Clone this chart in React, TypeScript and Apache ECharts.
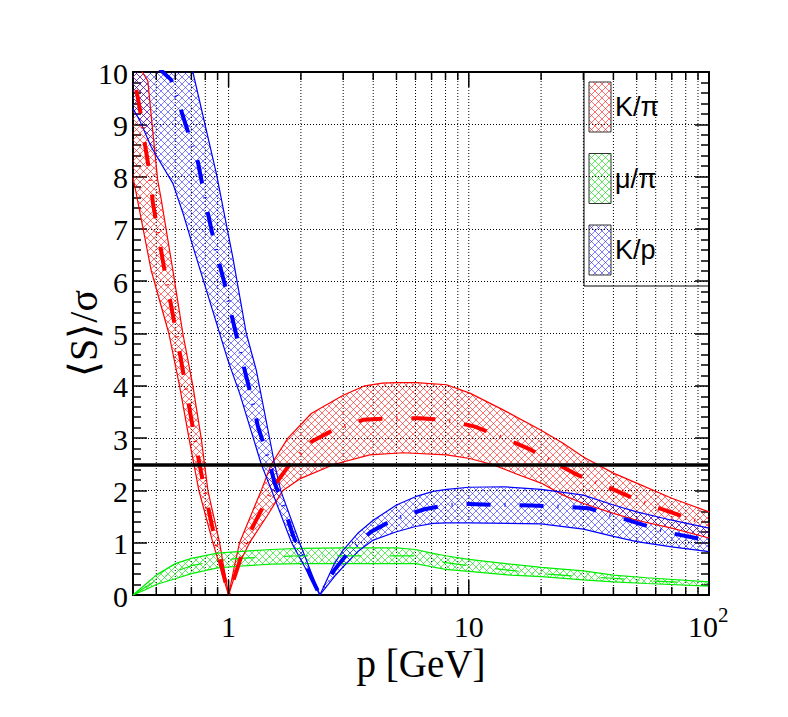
import React, { useEffect, useRef } from 'react';
import * as echarts from 'echarts';

// ---- axis ranges ----
const xMin = 0.4;
const xMax = 100;
const yMin = 0;
const yMax = 10;
const threshold = 2.5;

// ---- K/pi band (red) ----
const redUpper: number[][] = [
  [0.40, 10.3], [0.437, 10.0], [0.461, 9.83], [0.484, 8.84], [0.507, 7.93], [0.524, 7.57],
  [0.586, 6.21], [0.645, 5.0], [0.71, 4.0], [0.769, 3.0], [0.82, 2.0], [0.917, 1.0], [1.0, 0.0],
  [1.052, 0.5], [1.111, 1.0], [1.368, 2.0], [1.506, 2.5], [1.766, 3.0], [2.21, 3.47], [3.0, 3.82],
  [3.69, 4.0], [4.37, 4.05], [5.0, 4.06], [6.04, 4.06], [8.08, 4.02], [10.1, 3.86], [13.9, 3.54],
  [20, 3.15], [24.7, 2.9], [30, 2.64], [40, 2.33], [50, 2.14], [70, 1.85], [100, 1.59],
];
const redLower: number[][] = [
  [0.40, 7.98], [0.41, 7.74], [0.476, 6.21], [0.564, 5.0], [0.625, 4.0], [0.684, 3.0], [0.752, 2.0],
  [0.86, 1.0], [1.0, 0.0], [1.09, 0.54], [1.223, 1.0], [1.45, 1.52], [1.683, 2.0], [2.0, 2.23],
  [2.76, 2.5], [3.87, 2.68], [5.33, 2.72], [8.08, 2.68], [10.1, 2.61], [12.6, 2.49], [16.3, 2.29],
  [20, 2.14], [24.7, 1.91], [30, 1.75], [40, 1.56], [50, 1.43], [70, 1.28], [100, 1.09],
];
const redCenter: number[][] = [
  [0.413, 9.66], [0.433, 9.14], [0.449, 8.6], [0.469, 8.07], [0.484, 7.5], [0.541, 6.21],
  [0.606, 5.0], [0.662, 4.0], [0.722, 3.0], [0.794, 2.0], [0.883, 1.0], [1.0, 0.0], [1.2, 1.11],
  [1.346, 1.56], [1.555, 2.1], [1.766, 2.45], [2.21, 2.93], [2.72, 3.15], [3.63, 3.35], [4.68, 3.38],
  [6.25, 3.38], [7.94, 3.35], [10.6, 3.22], [13.5, 3.03], [17.7, 2.8], [22, 2.57], [28.5, 2.29],
  [36.3, 2.1], [46.8, 1.88], [59.5, 1.69], [78.3, 1.5], [100, 1.34],
];

// ---- mu/pi band (green) ----
const greenUpper: number[][] = [
  [0.4, 0.0], [0.45, 0.2], [0.5, 0.38], [0.6, 0.6], [0.7, 0.7], [0.9, 0.8], [1.1, 0.83], [1.5, 0.87],
  [2, 0.89], [3, 0.9], [5, 0.9], [6, 0.87], [7, 0.8], [8, 0.75], [10, 0.68], [15, 0.59], [20, 0.53],
  [30, 0.46], [40, 0.38], [55, 0.33], [100, 0.25],
];
const greenLower: number[][] = [
  [0.4, 0.0], [0.45, 0.1], [0.5, 0.2], [0.6, 0.31], [0.7, 0.41], [0.9, 0.52], [1.1, 0.55], [1.5, 0.59],
  [2, 0.6], [6, 0.6], [7, 0.54], [8, 0.49], [10, 0.45], [15, 0.38], [20, 0.35], [30, 0.29], [40, 0.25],
  [55, 0.22], [100, 0.17],
];
const greenCenter: number[][] = [
  [0.4, 0.0], [0.5, 0.28], [0.6, 0.45], [0.7, 0.56], [0.9, 0.66], [1.1, 0.7], [1.5, 0.73], [2, 0.75],
  [6, 0.75], [7, 0.68], [8, 0.62], [10, 0.56], [15, 0.47], [20, 0.41], [30, 0.35], [40, 0.32],
  [55, 0.27], [70, 0.25], [100, 0.22],
];

// ---- K/p band (blue) ----
const blueUpper: number[][] = [
  [0.4, 11.5], [0.6, 11.4], [0.71, 10.0], [0.889, 8.06], [1.04, 6.47], [1.185, 5.0], [1.304, 4.3],
  [1.555, 2.5], [1.647, 2.0], [1.976, 1.0], [2.4, 0.0], [2.757, 0.6], [3.0, 0.86], [3.45, 1.18],
  [4.0, 1.43], [5.0, 1.72], [6.0, 1.88], [7.1, 1.98], [8.1, 2.02], [10, 2.06], [14, 2.07], [20, 2.02],
  [30, 1.91], [40, 1.72], [50, 1.59], [70, 1.43], [100, 1.28],
];
const blueLower: number[][] = [
  [0.4, 9.3], [0.426, 9.08], [0.476, 8.57], [0.586, 7.87], [0.645, 7.31], [0.71, 6.67], [0.993, 4.49],
  [1.111, 3.86], [1.368, 2.5], [1.51, 2.0], [1.83, 1.0], [2.4, 0.0], [2.757, 0.35], [3.0, 0.54],
  [3.45, 0.83], [4.0, 1.05], [5.0, 1.21], [6.0, 1.31], [7.1, 1.37], [8.1, 1.38], [10, 1.38], [20, 1.36],
  [30, 1.26], [40, 1.12], [50, 1.02], [70, 0.92], [100, 0.83],
];
const blueCenter: number[][] = [
  [0.5, 10.15], [0.532, 10.0], [0.577, 9.85], [0.605, 9.56], [0.688, 8.76], [0.745, 8.28], [0.82, 7.3],
  [0.889, 6.56], [0.978, 5.83], [1.01, 5.51], [1.166, 4.3], [1.263, 3.67], [1.325, 3.22], [1.458, 2.64],
  [1.555, 2.14], [1.712, 1.63], [1.852, 1.15], [2.04, 0.7], [2.2, 0.35], [2.4, 0.0], [2.757, 0.48],
  [3.18, 0.83], [3.92, 1.21], [4.9, 1.45], [6.53, 1.64], [8.1, 1.72], [10, 1.74], [14.1, 1.72],
  [18.2, 1.71], [24.3, 1.69], [31.5, 1.66], [41.2, 1.5], [53.3, 1.34], [69.8, 1.18], [90.4, 1.08],
  [100, 1.05],
];

// ---- ticks / grid / labels ----
const xGridValues = [0.5, 0.6, 0.7, 0.8, 0.9, 1, 2, 3, 4, 5, 6, 7, 8, 9, 10, 20, 30, 40, 50, 60, 70, 80, 90];
const xTickValues = [0.5, 0.6, 0.7, 0.8, 0.9, 1, 2, 3, 4, 5, 6, 7, 8, 9, 10, 20, 30, 40, 50, 60, 70, 80, 90, 100];
const xMajorTicks = [1, 10, 100];
const xLabelValues = [1, 10, 100];
const yLabelValues = [0, 1, 2, 3, 4, 5, 6, 7, 8, 9, 10];
const legendLabels = ['K/π', 'μ/π', 'K/p'];

const SERIF = 'Liberation Serif';
const SANS = 'Liberation Sans';

function makeHatch(color: string) {
  const s = 7;
  const T = 14;
  const c = document.createElement('canvas');
  c.width = T;
  c.height = T;
  const ctx = c.getContext('2d')!;
  ctx.strokeStyle = color;
  ctx.lineWidth = 1;
  for (let k = -3; k <= 4; k++) {
    ctx.beginPath();
    ctx.moveTo(k * s, 0);
    ctx.lineTo(k * s + T, T);
    ctx.stroke();
    ctx.beginPath();
    ctx.moveTo(k * s, 0);
    ctx.lineTo(k * s - T, T);
    ctx.stroke();
  }
  return { image: c.toDataURL(), repeat: 'repeat', imageWidth: T, imageHeight: T };
}

export default function App() {
  const ref = useRef<HTMLDivElement>(null);

  useEffect(() => {
    document.body.style.margin = '0';
    const chart = echarts.init(ref.current!, null, { renderer: 'svg' });

    const redFill = makeHatch('rgba(255,0,0,0.55)');
    const greenFill = makeHatch('rgba(0,220,0,0.6)');
    const blueFill = makeHatch('rgba(0,0,255,0.5)');

    const dashDot = [24, 14, 1, 14];

    const band = (name: string, upper: number[][], lower: number[][], fill: any) => {
      const poly = upper.concat(lower.slice().reverse());
      return {
        type: 'custom',
        name,
        clip: true,
        silent: true,
        z: 2,
        data: poly,
        encode: { x: 0, y: 1 },
        renderItem: (params: any, api: any) => {
          if (params.dataIndex !== 0) return null;
          const pts = poly.map((d) => api.coord(d));
          return { type: 'polygon', shape: { points: pts }, style: { fill, stroke: null } };
        },
      };
    };

    const line = (name: string, data: number[][], color: string, width: number, type: any, z: number, extra: any = {}) => ({
      type: 'line',
      name,
      data,
      symbol: 'none',
      showSymbol: false,
      clip: true,
      silent: true,
      z,
      lineStyle: { color, width, type, cap: 'butt' },
      ...extra,
    });

    const txt = (x: number, y: number, text: string, font: string, align: string, lineHeight: number, rotation = 0) => ({
      type: 'text',
      x,
      y,
      rotation,
      style: {
        text,
        font,
        lineHeight,
        fill: '#000',
        align,
        textAlign: align,
        verticalAlign: 'middle',
        textVerticalAlign: 'middle',
      },
    });

    const option: any = {
      animation: false,
      backgroundColor: '#ffffff',
      grid: { left: 133, right: 79, top: 72, bottom: 122, containLabel: false },
      xAxis: [
        {
          type: 'log',
          logBase: 10,
          min: xMin,
          max: xMax,
          position: 'bottom',
          axisLine: { show: true, onZero: false, lineStyle: { color: '#000', width: 2 } },
          axisTick: { show: false },
          axisLabel: { show: false },
          splitLine: { show: false },
        },
        {
          type: 'log',
          logBase: 10,
          min: xMin,
          max: xMax,
          position: 'top',
          axisLine: { show: true, onZero: false, lineStyle: { color: '#000', width: 2 } },
          axisTick: { show: false },
          axisLabel: { show: false },
          splitLine: { show: false },
        },
      ],
      yAxis: [
        {
          type: 'value',
          min: yMin,
          max: yMax,
          interval: 1,
          position: 'left',
          axisLine: { show: true, onZero: false, lineStyle: { color: '#000', width: 2 } },
          axisTick: { show: true, inside: true, length: 14, lineStyle: { color: '#000', width: 1.5 } },
          minorTick: { show: true, splitNumber: 5, length: 8, lineStyle: { color: '#000', width: 1.5 } },
          axisLabel: { show: false },
          splitLine: { show: true, lineStyle: { color: '#000', width: 1, type: [1, 2] } },
        },
        {
          type: 'value',
          min: yMin,
          max: yMax,
          interval: 1,
          position: 'right',
          axisLine: { show: true, onZero: false, lineStyle: { color: '#000', width: 2 } },
          axisTick: { show: true, inside: true, length: 14, lineStyle: { color: '#000', width: 1.5 } },
          minorTick: { show: true, splitNumber: 5, length: 8, lineStyle: { color: '#000', width: 1.5 } },
          axisLabel: { show: false },
          splitLine: { show: false },
        },
      ],
      series: [
        {
          type: 'custom',
          name: 'xgrid',
          silent: true,
          z: 1,
          data: xGridValues.map((v) => [v, yMin]),
          encode: { x: 0, y: 1 },
          renderItem: (params: any, api: any) => {
            const p = api.value(0);
            const a = api.coord([p, yMin]);
            const b = api.coord([p, yMax]);
            return {
              type: 'line',
              shape: { x1: a[0], y1: a[1], x2: b[0], y2: b[1] },
              style: { stroke: '#000', lineWidth: 1, lineDash: [1, 2] },
            };
          },
        },
        band('K/π band', redUpper, redLower, redFill),
        band('μ/π band', greenUpper, greenLower, greenFill),
        band('K/p band', blueUpper, blueLower, blueFill),
        line('K/π upper', redUpper, '#ff0000', 1.2, 'solid', 3),
        line('K/π lower', redLower, '#ff0000', 1.2, 'solid', 3),
        line('μ/π upper', greenUpper, '#00ee00', 1.2, 'solid', 3),
        line('μ/π lower', greenLower, '#00ee00', 1.2, 'solid', 3),
        line('K/p upper', blueUpper, '#0000ff', 1.2, 'solid', 3),
        line('K/p lower', blueLower, '#0000ff', 1.2, 'solid', 3),
        line('μ/π', greenCenter, '#00ee00', 1.2, dashDot, 4),
        line('K/π', redCenter, '#ff0000', 4, dashDot, 4),
        line('K/p', blueCenter, '#0000ff', 4, dashDot, 4, {
          markLine: {
            silent: true,
            symbol: 'none',
            label: { show: false },
            lineStyle: { color: '#000', width: 3.5, type: 'solid' },
            data: [{ yAxis: threshold }],
          },
        }),
        {
          type: 'custom',
          name: 'xticks',
          silent: true,
          z: 6,
          data: xTickValues.map((v) => [v, yMin]),
          encode: { x: 0, y: 1 },
          renderItem: (params: any, api: any) => {
            const p = api.value(0);
            const b = api.coord([p, yMin]);
            const t = api.coord([p, yMax]);
            const len = xMajorTicks.indexOf(p) >= 0 ? 15 : 8;
            return {
              type: 'group',
              children: [
                { type: 'line', shape: { x1: b[0], y1: b[1], x2: b[0], y2: b[1] - len }, style: { stroke: '#000', lineWidth: 1.5 } },
                { type: 'line', shape: { x1: t[0], y1: t[1], x2: t[0], y2: t[1] + len }, style: { stroke: '#000', lineWidth: 1.5 } },
              ],
            };
          },
        },
        {
          type: 'custom',
          name: 'xlabels',
          silent: true,
          clip: false,
          z: 6,
          data: xLabelValues.map((v) => [v, yMin]),
          encode: { x: 0, y: 1 },
          renderItem: (params: any, api: any) => {
            const p = api.value(0);
            const c = api.coord([p, yMin]);
            const exp = Math.round(Math.log10(p));
            const font = '30px ' + SERIF;
            if (exp < 2) return txt(c[0], c[1] + 31, String(p), font, 'center', 24);
            return {
              type: 'group',
              children: [
                txt(c[0] + 9, c[1] + 31, '10', font, 'right', 24),
                txt(c[0] + 9, c[1] + 20, String(exp), '21px ' + SERIF, 'left', 18),
              ],
            };
          },
        },
        {
          type: 'custom',
          name: 'ylabels',
          silent: true,
          clip: false,
          z: 6,
          data: yLabelValues.map((v) => [xMin, v]),
          encode: { x: 0, y: 1 },
          renderItem: (params: any, api: any) => {
            const v = api.value(1);
            const c = api.coord([xMin, v]);
            const children: any[] = [txt(c[0] - 5, c[1] + 1, String(v), '30px ' + SERIF, 'right', 26)];
            if (params.dataIndex === 0) {
              // axis titles anchored to the plot frame
              const bl = api.coord([xMin, yMin]);
              const tr = api.coord([xMax, yMax]);
              children.push(txt((bl[0] + tr[0]) / 2, bl[1] + 68, 'p [GeV]', '39px ' + SERIF, 'center', 34));
              children.push(txt(bl[0] - 50, (bl[1] + tr[1]) / 2, '⟨S⟩/σ', '40px ' + SERIF, 'center', 34, Math.PI / 2));
            }
            return { type: 'group', children };
          },
        },
      ],
      graphic: [
        {
          type: 'group',
          z: 100,
          children: [
            { type: 'rect', shape: { x: 584, y: 72, width: 125, height: 214 }, style: { fill: '#fff', stroke: '#000', lineWidth: 1 } },
            ...[redFill, greenFill, blueFill].map((f, i) => ({
              type: 'rect',
              shape: { x: 589, y: 82 + i * 71.5, width: 22, height: 50 },
              style: { fill: f, stroke: '#333', lineWidth: 1 },
            })),
            ...legendLabels.map((t, i) => ({
              type: 'text',
              x: 615,
              y: 107 + i * 71.5,
              style: { text: t, font: '27px ' + SANS, fill: '#000', verticalAlign: 'middle', textVerticalAlign: 'middle' },
            })),
          ],
        },
      ],
    };

    chart.setOption(option);
    return () => chart.dispose();
  }, []);

  return <div ref={ref} style={{ position: 'fixed', left: 0, top: 0, width: 788, height: 717, background: '#fff' }} />;
}
